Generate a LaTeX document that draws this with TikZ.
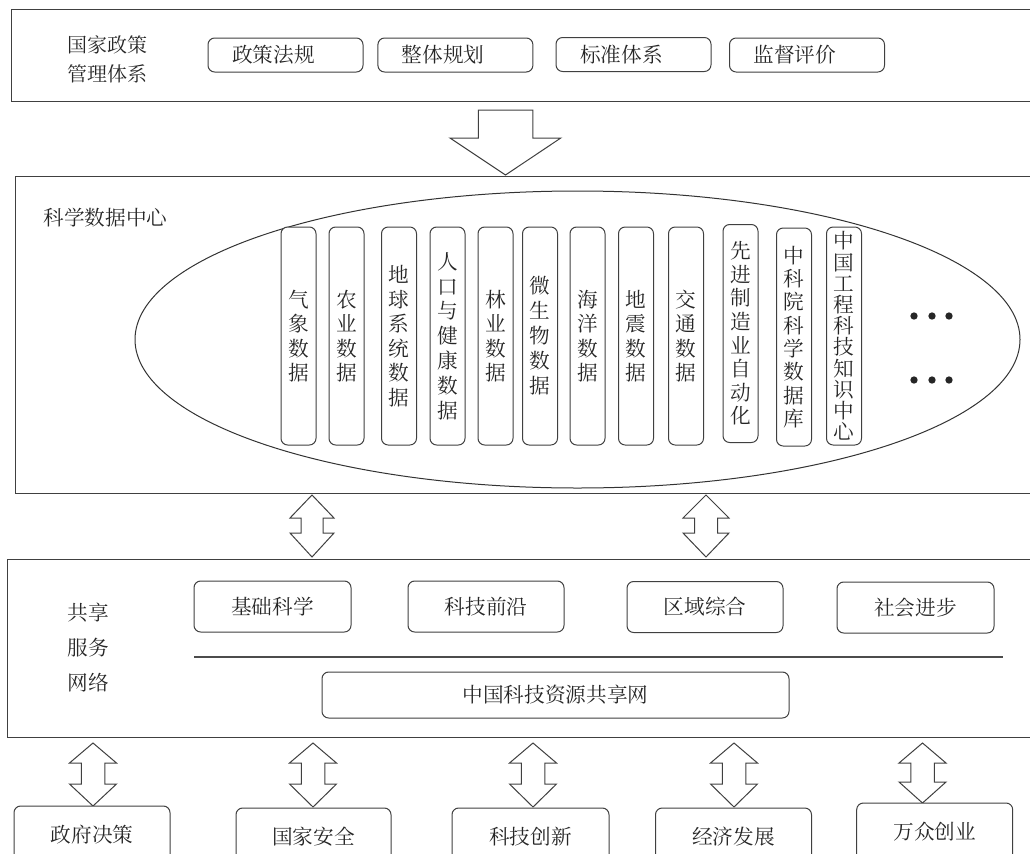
\documentclass[tikz,border=0pt]{standalone}
\usepackage{fontspec}
\IfFontExistsTF{FandolSong}{\setmainfont{FandolSong}}{%
  \IfFontExistsTF{Noto Serif CJK SC}{\setmainfont{Noto Serif CJK SC}}{\setmainfont{Noto Sans CJK SC}}}
\usetikzlibrary{shapes.geometric}
\newcommand\fs{\fontsize{15.5}{18.6}\selectfont}
% double block arrow: cx, top, base1, base2, tip, half head width
\newcommand\dblarrow[6]{%
  \draw[blk] (#1,#2) -- (#1+#6,#3) -- (#1+#6/2,#3) -- (#1+#6/2,#4) -- (#1+#6,#4) -- (#1,#5)
    -- (#1-#6,#4) -- (#1-#6/2,#4) -- (#1-#6/2,#3) -- (#1-#6,#3) -- cycle;}
\begin{document}
\begin{tikzpicture}[x=0.75pt,y=-0.75pt,
  every node/.style={text=black!85, font=\fs},
  frame/.style={draw=black!75, line width=1pt, inner sep=0pt, anchor=north west},
  rbox/.style={draw=black!75, line width=0.75pt, fill=white, rounded corners=5pt, inner sep=0pt},
  rb/.style 2 args={rbox, minimum width=#1*0.75pt, minimum height=#2*0.75pt},
  tb/.style={rbox, minimum height=34*0.75pt, inner xsep=24*0.75pt, text width=107*0.75pt, align=left},
  vb/.style={rbox, minimum width=35*0.75pt, minimum height=218*0.75pt, align=center},
  blk/.style={draw=black!75, line width=0.75pt, fill=white, line join=miter},
  dot/.style={fill=black!85, circle, inner sep=0pt, minimum size=5.5pt}]
\path[use as bounding box] (0,0) rectangle (1030,853);
\clip (0,0) rectangle (1030,853);

% ---------- policy layer ----------
\node[frame, minimum width=1029*0.75pt, minimum height=92*0.75pt] (policy) at (11,9) {};
\node[align=left, font=\fontsize{15}{21.75}\selectfont] (policyT) at (107,59.5) {国家政策\\管理体系};
\node[tb] (p1) at (285.5,55) {政策法规};
\node[tb] (p2) at (455.4,55) {整体规划};
\node[tb] (p3) at (633.5,54.5) {标准体系};
\node[tb] (p4) at (807,55) {监督评价};

% big down arrow
\draw[blk] (478.3,110) -- (532.8,110) -- (532.8,138) -- (560.8,138) -- (505.5,175)
  -- (450,138) -- (478.3,138) -- cycle;

% ---------- data centre layer ----------
\node[frame, minimum width=1025*0.75pt, minimum height=317*0.75pt] (centre) at (15,176) {};
\node (centreT) at (105.5,218) {科学数据中心};
\node[ellipse, draw=black!80, line width=0.75pt, inner sep=0pt,
      minimum width=885*0.75pt, minimum height=297*0.75pt] (ell) at (577.5,339.5) {};

\node[vb, font=\fontsize{15.5}{18.4}\selectfont] (d1) at (298.5,336) {气\\象\\数\\据};
\node[vb, font=\fontsize{15.5}{18.4}\selectfont] (d2) at (346.5,336) {农\\业\\数\\据};
\node[vb, font=\fontsize{15.5}{18.4}\selectfont] (d3) at (399,336) {地\\球\\系\\统\\数\\据};
\node[vb, font=\fontsize{15.5}{18.6}\selectfont] (d4) at (447.5,336) {人\\口\\与\\健\\康\\数\\据};
\node[vb, font=\fontsize{15.5}{18.4}\selectfont] (d5) at (495.5,336) {林\\业\\数\\据};
\node[vb, font=\fontsize{15.5}{18.8}\selectfont] (d6) at (540,336) {微\\生\\物\\数\\据};
\node[vb, font=\fontsize{15.5}{18.4}\selectfont] (d7) at (587.5,336) {海\\洋\\数\\据};
\node[vb, font=\fontsize{15.5}{18.4}\selectfont] (d8) at (636,336) {地\\震\\数\\据};
\node[vb, font=\fontsize{15.5}{18.4}\selectfont] (d9) at (686,336) {交\\通\\数\\据};
\node[vb, font=\fontsize{15.5}{17.7}\selectfont] (d10) at (740.5,333.5) {先\\进\\制\\造\\业\\自\\动\\化};
\node[vb, font=\fontsize{15.5}{17.5}\selectfont] (d11) at (794,337) {中\\科\\院\\科\\学\\数\\据\\库};
\node[vb, font=\fontsize{15.5}{15.9}\selectfont] (d12) at (844,336) {中\\国\\工\\程\\科\\技\\知\\识\\中\\心};

\node[dot] (a1) at (914,316) {};
\node[dot] (a2) at (932,316) {};
\node[dot] (a3) at (949,316) {};
\node[dot] (b1) at (914,380) {};
\node[dot] (b2) at (932,380) {};
\node[dot] (b3) at (949,380) {};

% arrows between centre and service layers
\dblarrow{312}{495}{518}{533}{557}{22}
\dblarrow{706}{495}{518}{533}{557}{23}

% ---------- sharing service layer ----------
\node[frame, minimum width=1033*0.75pt, minimum height=178*0.75pt] (service) at (7,559) {};
\node[align=left, font=\fontsize{15.5}{26.25}\selectfont] (serviceT) at (88.5,648) {共享\\服务\\网络};
\node[rb={157}{51}] (s1) at (272.5,606.5) {基础科学};
\node[rb={156}{51}] (s2) at (486,606.5) {科技前沿};
\node[rb={156}{51}] (s3) at (705,607) {区域综合};
\node[rb={157}{51}] (s4) at (915.5,607.5) {社会进步};
\coordinate (lineL) at (194,657);
\coordinate (lineR) at (1003,657);
\draw[black!70, line width=1pt] (lineL) -- (lineR);
\node[rb={467}{46}] (net) at (555.5,695) {中国科技资源共享网};

% ---------- bottom arrows ----------
\dblarrow{93}{743}{763}{784}{806}{23.5}
\dblarrow{313}{743}{763}{784}{807}{23.5}
\dblarrow{533}{743}{763}{784}{807}{23.5}
\dblarrow{734}{743}{763}{784}{807}{23.5}
\dblarrow{922.5}{743}{763}{782}{803}{23.5}

% ---------- application boxes ----------
\node[rb={156}{58}] (u1) at (92,835) {政府决策};
\node[rb={155}{58}] (u2) at (313.5,837) {国家安全};
\node[rb={157}{58}] (u3) at (530.5,837) {科技创新};
\node[rb={156}{58}] (u4) at (733.5,837) {经济发展};
\node[rb={156}{58}] (u5) at (934.7,832) {万众创业};
\end{tikzpicture}
\end{document}
